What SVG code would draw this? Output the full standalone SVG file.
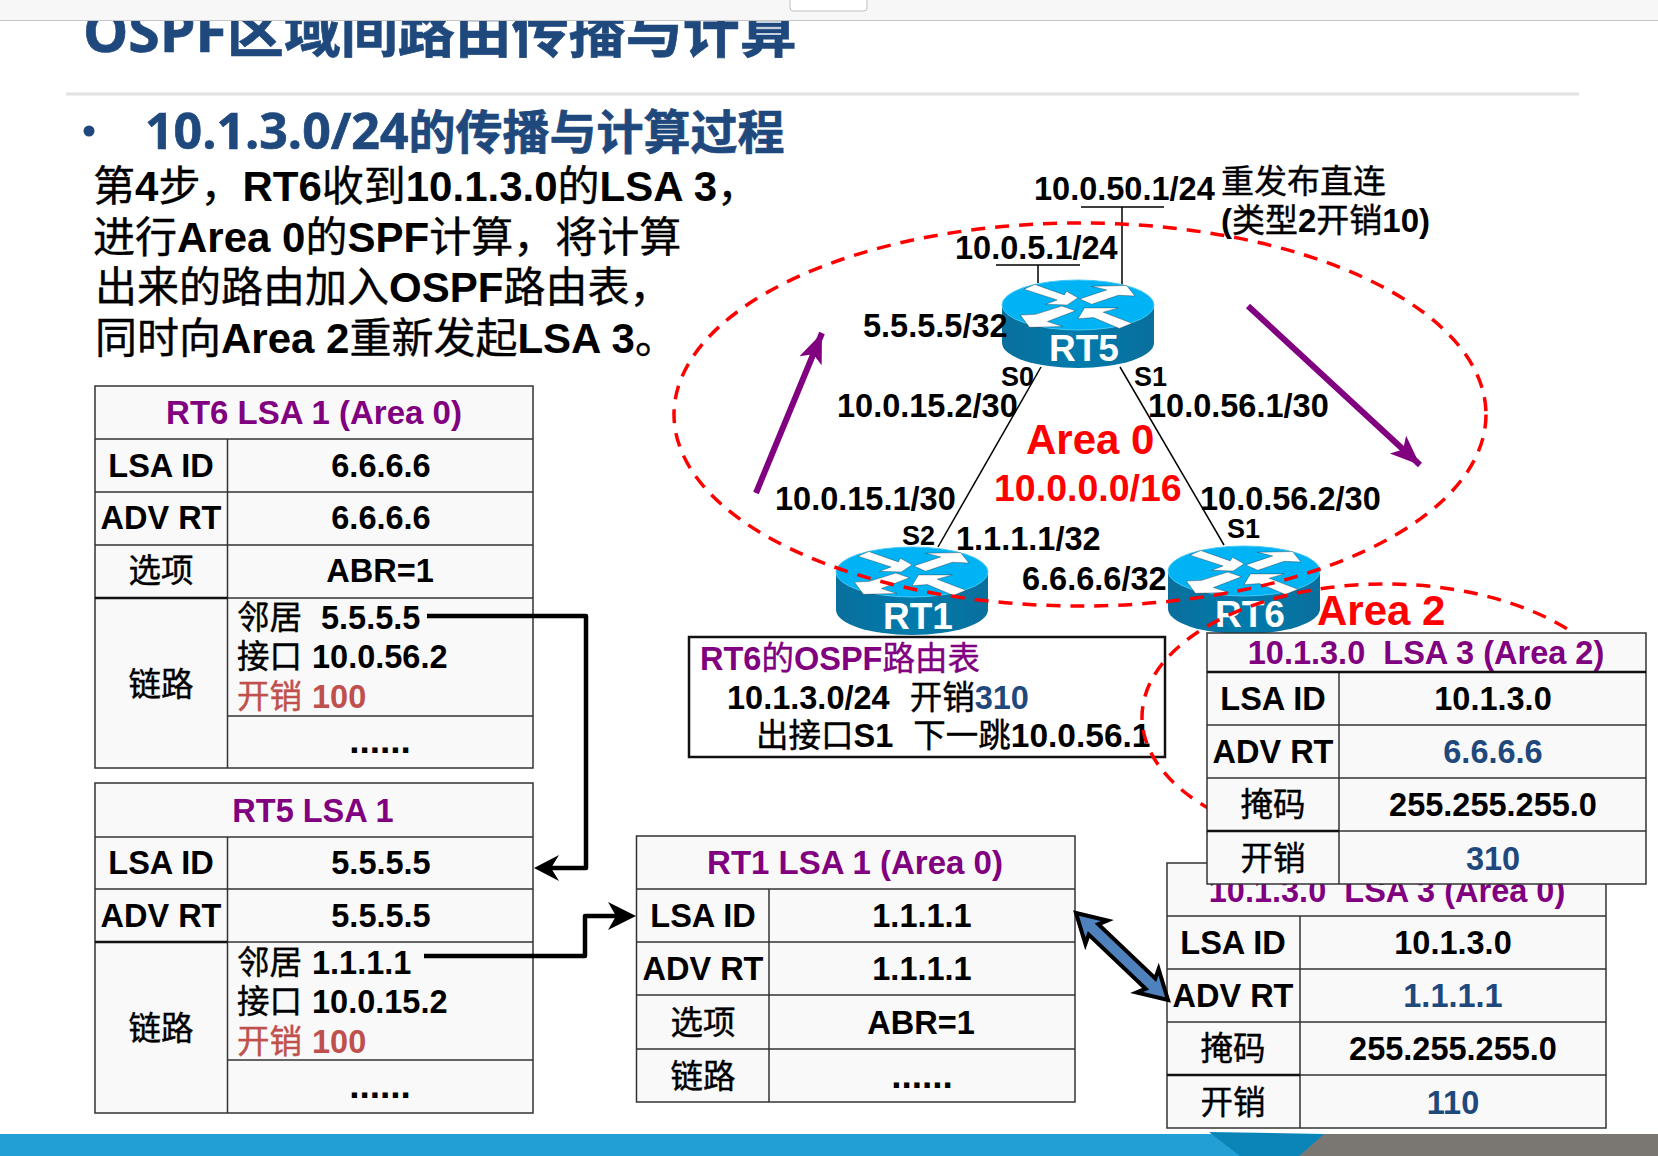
<svg xmlns="http://www.w3.org/2000/svg" width="1658" height="1156" viewBox="0 0 1658 1156">
<style>
text{font-family:"Liberation Sans","Noto Sans CJK SC",sans-serif;font-weight:700;font-size:32.500px;fill:#000}
.z{font-weight:400;stroke:#000;stroke-width:.4}
.m{text-anchor:middle}
.p{fill:#800080}
.p .z{stroke:#800080}
.u{fill:#1f497d}
.r{fill:#f00}
.w{fill:#fff;font-size:37px}
.o{fill:#c0504d}
.o .z,.z.o{stroke:#c0504d}
.s{font-size:27px}
.h33{font-size:33px}
.dots{font-size:37px}
.big{font-size:42px}
.cell{fill:#f9f9f9;stroke:#333;stroke-width:1.500}
.grid{stroke:#333;stroke-width:1.500;fill:none}
.thick{stroke:#111;stroke-width:2.500;fill:none}
.link{stroke:#000;stroke-width:1.500;fill:none}
.elbow{stroke:#000;stroke-width:4.500;fill:none;stroke-linejoin:round}
.area{fill:none;stroke:#f00;stroke-width:3.500;stroke-dasharray:14 10}
.pa{stroke:#800080;stroke-width:6;fill:none;marker-end:url(#purple)}
.head{font-family:"Open Sans","Noto Sans CJK SC",sans-serif;fill:#1f497d;stroke:#1f497d;stroke-width:.7}
</style>
<defs>
<marker id="purple" markerUnits="userSpaceOnUse" markerWidth="34" markerHeight="30" refX="30" refY="15" orient="auto"><path d="M0 3 L30 15 L0 27 L7 15 Z" fill="#800080"/></marker>
<linearGradient id="side" x1="0" x2="1" y1="0" y2="0"><stop offset="0" stop-color="#0a6f9c"/><stop offset=".5" stop-color="#007bac"/><stop offset="1" stop-color="#0a6f9c"/></linearGradient>
<g id="router">
<path d="M-76 0 V38 A76 25 0 0 0 76 38 V0 Z" fill="url(#side)"/>
<ellipse cx="0" cy="0" rx="76" ry="25" fill="#00b3f5" stroke="#48c8f5" stroke-width="1"/>
<g transform="scale(.3600) translate(-250 -92)" fill="#fff" stroke="#222" stroke-width="1">
<path d="M100 48 L130 35 L212 64 L218 54 L250 72 L220 92 L160 90 L192 78 Z"/>
<path d="M255 75 L330 50 L288 40 L385 38 L408 67 L362 65 L288 90 Z"/>
<path d="M90 120 L132 118 L205 95 L243 108 L165 138 L208 152 L115 154 Z"/>
<path d="M250 130 L268 100 L362 100 L320 112 L400 143 L365 157 L293 127 Z"/>
</g>
</g>
</defs>

<rect width="1658" height="1156" fill="#fff"/>

<g id="slide-header">
<text class="head" x="83" y="52" style="font-size:57px">OSPF区域间路由传播与计算</text>
<rect x="0" y="0" width="1658" height="20" fill="#f7f7f7"/>
<line x1="0" y1="20.500" x2="1658" y2="20.500" stroke="#c4c4c4" stroke-width="1"/>
<rect x="790" y="-6" width="77" height="17" rx="3" fill="#fff" stroke="#c0c0c0"/>
<line x1="66" y1="94" x2="1579" y2="94" stroke="#e2e2e2" stroke-width="3"/>
<circle cx="89" cy="131" r="5.500" fill="#1f497d"/>
<text class="head" x="145" y="149" style="font-size:50px">10.1.3.0/24<tspan style="font-size:47px">的传播与计算过程</tspan></text>
</g>

<g id="intro">
<text x="93" y="201" class="big"><tspan class="z">第</tspan>4<tspan class="z">步，</tspan>RT6<tspan class="z">收到</tspan>10.1.3.0<tspan class="z">的</tspan>LSA 3<tspan class="z">，</tspan></text>
<text x="93" y="252" class="big"><tspan class="z">进行</tspan>Area 0<tspan class="z">的</tspan>SPF<tspan class="z">计算，将计算</tspan></text>
<text x="95" y="302" class="big"><tspan class="z">出来的路由加入</tspan>OSPF<tspan class="z">路由表，</tspan></text>
<text x="95" y="353" class="big"><tspan class="z">同时向</tspan>Area 2<tspan class="z">重新发起</tspan>LSA 3<tspan class="z">。</tspan></text>
</g>

<g id="connectors">
<line class="link" x1="1041" y1="367" x2="938" y2="547"/>
<line class="link" x1="1120" y1="367" x2="1224" y2="545"/>
<path class="link" d="M1081 207 H1164 M1122 207 V285"/>
<path class="link" d="M996 265 H1080 M1038 265 V283"/>
</g>

<g id="rt5"><use href="#router" x="1078" y="305"/><text class="w m" x="1084" y="361">RT5</text></g>
<g id="rt1"><use href="#router" x="912" y="572"/><text class="w m" x="918" y="629">RT1</text></g>
<g id="rt6"><use href="#router" x="1244" y="571"/><text class="w m" x="1250" y="627">RT6</text></g>

<g id="network-labels">
<text x="1034" y="200">10.0.50.1/24</text>
<text x="955" y="259">10.0.5.1/24</text>
<text x="1221" y="193" class="z h33">重发布直连</text>
<text x="1221" y="232" class="h33">(<tspan class="z">类型</tspan>2<tspan class="z">开销</tspan>10)</text>
<text x="863" y="337">5.5.5.5/32</text>
<text x="1001" y="386" class="s">S0</text>
<text x="1134" y="386" class="s">S1</text>
<text x="837" y="417">10.0.15.2/30</text>
<text x="1148" y="417">10.0.56.1/30</text>
<text x="1026" y="454" class="r big">Area 0</text>
<text x="994" y="501" class="r" style="font-size:37.500px">10.0.0.0/16</text>
<text x="775" y="510">10.0.15.1/30</text>
<text x="1200" y="510">10.0.56.2/30</text>
<text x="902" y="545" class="s">S2</text>
<text x="1227" y="538" class="s">S1</text>
<text x="956" y="550">1.1.1.1/32</text>
<text x="1022" y="590">6.6.6.6/32</text>
<text x="1317" y="625" class="r big">Area 2</text>
</g>

<g id="area0-boundary">
<ellipse class="area" cx="1080" cy="414.500" rx="406" ry="191.500"/>
<line class="pa" x1="756" y1="493" x2="822" y2="333"/>
<line class="pa" x1="1248" y1="306" x2="1420" y2="465"/>
</g>

<g id="route-table">
<rect x="689" y="637" width="476" height="120" fill="#fff" stroke="#111" stroke-width="2.500"/>
<text x="700" y="670" class="p">RT6<tspan class="z">的</tspan>OSPF<tspan class="z">路由表</tspan></text>
<text x="727" y="709">10.1.3.0/24<tspan class="z" dx="20">开销</tspan><tspan class="u">310</tspan></text>
<text x="756" y="747"><tspan class="z">出接口</tspan>S1<tspan class="z" dx="20">下一跳</tspan><tspan style="font-size:33.500px">10.0.56.1</tspan></text>
</g>

<g id="area2-boundary"><ellipse class="area" cx="1385" cy="717" rx="243" ry="133"/></g>

<g id="rt6-lsa1">
<rect class="cell" x="95" y="386" width="438" height="382"/>
<path class="grid" d="M95 439 H533 M95 492 H533 M95 545 H533 M227.500 716 H533 M227.500 439 V768 M227.500 598 H533"/>
<path class="thick" d="M95 598 H227.500"/>
<text class="m p h33" x="314" y="424">RT6 LSA 1 (Area 0)</text>
<text class="m" x="161" y="477">LSA ID</text><text class="m" x="381" y="477">6.6.6.6</text>
<text class="m" x="161" y="529">ADV RT</text><text class="m" x="381" y="529">6.6.6.6</text>
<text class="m z" x="161" y="582">选项</text><text class="m" x="380" y="582">ABR=1</text>
<text class="m z" x="161" y="696">链路</text>
<text x="237" y="629" class="z">邻居</text><text x="321" y="629">5.5.5.5</text>
<text x="237" y="668" class="z">接口</text><text x="312" y="668">10.0.56.2</text>
<text x="237" y="708" class="z o">开销</text><text x="312" y="708" class="o">100</text>
<text class="m dots" x="380" y="753">......</text>
</g>

<g id="rt5-lsa1">
<rect class="cell" x="95" y="783" width="438" height="330"/>
<path class="grid" d="M95 837 H533 M95 889 H533 M227.500 1060 H533 M227.500 837 V1113 M227.500 942 H533"/>
<path class="thick" d="M95 942 H227.500"/>
<text class="m p" x="313" y="822">RT5 LSA 1</text>
<text class="m" x="161" y="874">LSA ID</text><text class="m" x="381" y="874">5.5.5.5</text>
<text class="m" x="161" y="927">ADV RT</text><text class="m" x="381" y="927">5.5.5.5</text>
<text class="m z" x="161" y="1040">链路</text>
<text x="237" y="974" class="z">邻居</text><text x="312" y="974">1.1.1.1</text>
<text x="237" y="1013" class="z">接口</text><text x="312" y="1013">10.0.15.2</text>
<text x="237" y="1053" class="z o">开销</text><text x="312" y="1053" class="o">100</text>
<text class="m dots" x="380" y="1098">......</text>
</g>

<g id="rt1-lsa1">
<rect class="cell" x="636.500" y="836" width="438.500" height="266"/>
<path class="grid" d="M636.500 889 H1075 M636.500 942 H1075 M636.500 995 H1075 M636.500 1049 H1075 M769 889 V1102"/>
<text class="m p h33" x="855" y="874">RT1 LSA 1 (Area 0)</text>
<text class="m" x="703" y="927">LSA ID</text><text class="m" x="922" y="927">1.1.1.1</text>
<text class="m" x="703" y="980">ADV RT</text><text class="m" x="922" y="980">1.1.1.1</text>
<text class="m z" x="703" y="1034">选项</text><text class="m" x="921" y="1034">ABR=1</text>
<text class="m z" x="703" y="1088">链路</text><text class="m dots" x="922" y="1088">......</text>
</g>

<g id="area0-lsa3">
<rect class="cell" x="1167" y="863" width="439" height="265"/>
<path class="grid" d="M1167 916 H1606 M1167 969 H1606 M1167 1022 H1606 M1300 916 V1128 M1300 1075 H1606"/>
<path class="thick" d="M1167 1075 H1300"/>
<text class="m p" x="1387" y="902">10.1.3.0&#160;&#160;LSA 3 (Area 0)</text>
<text class="m" x="1233" y="954">LSA ID</text><text class="m" x="1453" y="954">10.1.3.0</text>
<text class="m" x="1233" y="1007">ADV RT</text><text class="m u" x="1453" y="1007">1.1.1.1</text>
<text class="m z" x="1233" y="1060">掩码</text><text class="m" x="1453" y="1060">255.255.255.0</text>
<text class="m z" x="1233" y="1114">开销</text><text class="m u" x="1453" y="1114">110</text>
</g>

<g id="area2-lsa3">
<rect class="cell" x="1207" y="633" width="439" height="251"/>
<path class="grid" d="M1207 725 H1646 M1207 778 H1646 M1339 672 V884 M1339 831 H1646"/>
<path class="thick" d="M1207 672 H1646 M1207 831 H1339"/>
<text class="m p" x="1426" y="664">10.1.3.0&#160;&#160;LSA 3 (Area 2)</text>
<text class="m" x="1273" y="710">LSA ID</text><text class="m" x="1493" y="710">10.1.3.0</text>
<text class="m" x="1273" y="763">ADV RT</text><text class="m u" x="1493" y="763">6.6.6.6</text>
<text class="m z" x="1273" y="816">掩码</text><text class="m" x="1493" y="816">255.255.255.0</text>
<text class="m z" x="1273" y="870">开销</text><text class="m u" x="1493" y="870">310</text>
</g>

<g id="table-connectors">
<path class="elbow" d="M427 616 H586 V868 H545"/>
<path d="M534 868 L559 855 L551 868 L559 881 Z" fill="#000"/>
<path class="elbow" d="M424 956 H585 V916 H620"/>
<path d="M636 916 L608 902 L616 916 L608 930 Z" fill="#000"/>
<path d="M1076 913 L1107.400 920.600 L1098.300 924.300 L1155.300 978.500 L1158.600 969.200 L1168 1000 L1136.600 992.400 L1145.700 988.700 L1088.700 934.500 L1085.400 943.800 Z" fill="#4f81bd" stroke="#000" stroke-width="4"/>
</g>

<g id="footer">
<rect x="0" y="1134" width="1658" height="22" fill="#229fd4"/>
<path d="M1299 1156 L1324 1134 H1658 V1156 Z" fill="#7a7672"/>
<path d="M1209 1132 L1324 1134 L1299 1156 H1240 Z" fill="#0b85b8"/>
</g>
</svg>
